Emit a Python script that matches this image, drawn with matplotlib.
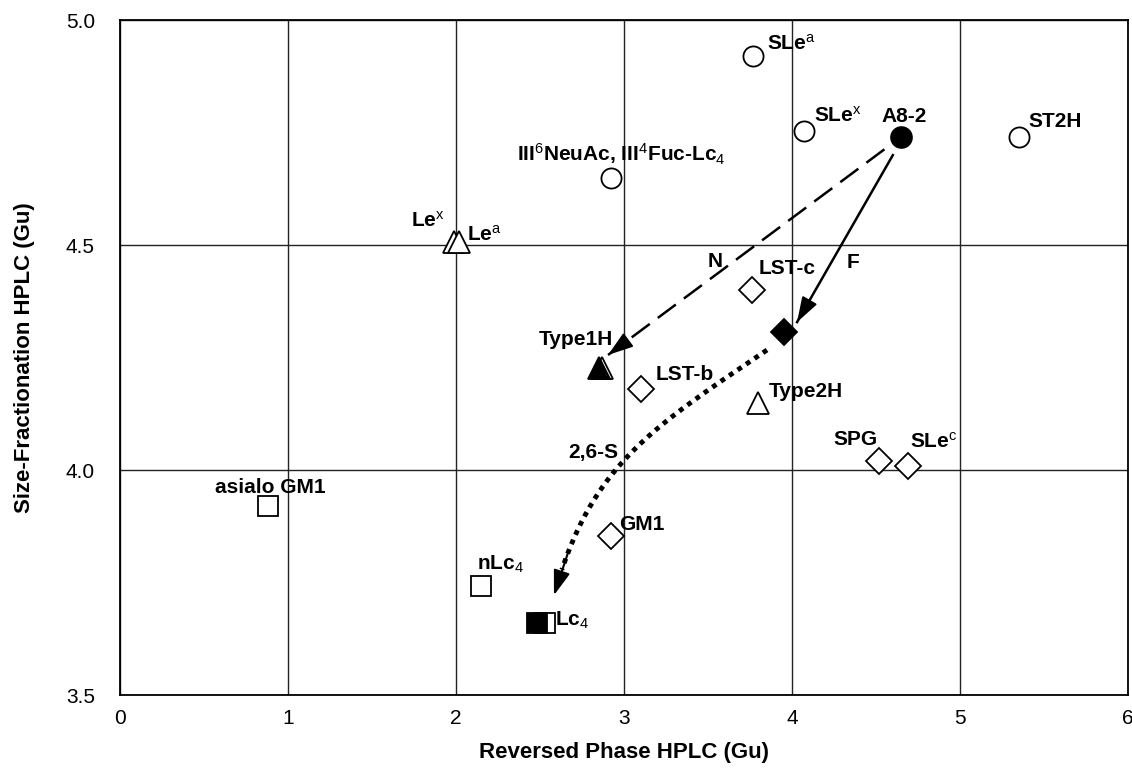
import numpy as np
import matplotlib.pyplot as plt

plt.rcParams['font.family'] = ['Liberation Sans', 'DejaVu Sans']
plt.rcParams['mathtext.fontset'] = 'custom'
plt.rcParams['mathtext.rm'] = 'Liberation Sans'
plt.rcParams['mathtext.it'] = 'Liberation Sans:italic'
plt.rcParams['mathtext.bf'] = 'Liberation Sans:bold'

# retention values (Gu): reversed phase (x) vs size fractionation (y)
circle_names = ['SLea', 'SLex', 'ST2H', 'III6NeuAc']
circle_x = [3.77, 4.07, 5.35, 2.92]
circle_y = [4.92, 4.753, 4.74, 4.65]

a82_x = [4.65]
a82_y = [4.74]

tri_names = ['Lex', 'Lea', 'Type1H', 'Type2H']
tri_x = [1.99, 2.02, 2.87, 3.80]
tri_y = [4.508, 4.508, 4.228, 4.15]

tri_prod_x = [2.85]
tri_prod_y = [4.228]

dia_names = ['LST-c', 'LST-b', 'SPG', 'SLec', 'GM1']
dia_x = [3.76, 3.10, 4.52, 4.69, 2.92]
dia_y = [4.40, 4.18, 4.02, 4.01, 3.853]

dia_prod_x = [3.95]
dia_prod_y = [4.307]

sq_names = ['asialo GM1', 'nLc4', 'Lc4']
sq_x = [0.88, 2.15, 2.53]
sq_y = [3.92, 3.742, 3.66]

sq_prod_x = [2.48]
sq_prod_y = [3.66]

# enzyme arrows: start and tip of N and F, control points of the 2,6-S curve
n_arrow = [(4.55, 4.713), (2.905, 4.256)]
f_arrow = [(4.60, 4.70), (4.03, 4.329)]
s_curve = [(3.851, 4.267), (3.137, 4.087), (2.798, 4.007), (2.583, 3.722)]

x_ticks = [0, 1, 2, 3, 4, 5, 6]
y_ticks = [3.5, 4.0, 4.5, 5.0]

fig = plt.figure(figsize=(11.32, 7.75), dpi=100)
ax = fig.add_axes([0.106, 0.103, 0.8905, 0.871])
ax.set_xlim(0, 6)
ax.set_ylim(3.5, 5.0)
ax.set_xticks(x_ticks)
ax.set_yticks(y_ticks)
ax.set_xticklabels([str(t) for t in x_ticks])
ax.set_yticklabels(['%.1f' % t for t in y_ticks])
ax.tick_params(length=0, labelsize=15, pad=10)
ax.tick_params(axis='y', pad=18)
ax.grid(True, color='#222222', lw=1.0)
ax.set_axisbelow(True)
for s in ax.spines.values():
    s.set_linewidth(1.3)

ax.set_xlabel('Reversed Phase HPLC (Gu)', fontsize=16, fontweight='bold', labelpad=10)
ax.set_ylabel('Size-Fractionation HPLC (Gu)', fontsize=16, fontweight='bold', labelpad=22)

mk = dict(ls='none', mec='k', mew=1.3, zorder=4)
ax.plot(circle_x, circle_y, 'o', ms=14.5, mfc='white', **mk)
ax.plot(a82_x, a82_y, 'o', ms=15, mfc='k', **mk)
ax.plot(tri_x, tri_y, '^', ms=16.5, mfc='white', **mk)
ax.plot(tri_prod_x, tri_prod_y, '^', ms=16.5, mfc='k', **mk)
ax.plot(dia_x, dia_y, 'D', ms=13.5, mfc='white', **mk)
ax.plot(dia_prod_x, dia_prod_y, 'D', ms=13.5, mfc='k', **mk)
ax.plot(sq_x, sq_y, 's', ms=15, mfc='white', **mk)
ax.plot(sq_prod_x, sq_prod_y, 's', ms=15, mfc='k', **mk)

pts = {}
for names, xs, ys in [(circle_names, circle_x, circle_y), (tri_names, tri_x, tri_y),
                      (dia_names, dia_x, dia_y), (sq_names, sq_x, sq_y)]:
    for n, x, y in zip(names, xs, ys):
        pts[n] = (x, y)
pts['A8-2'] = (a82_x[0], a82_y[0])

# label text, offset in pixels from its point, alignment
labels = {
    'SLea': (r'SLe$^{\mathrm{a}}$', 14, 6, 'left'),
    'SLex': (r'SLe$^{\mathrm{x}}$', 10, 10, 'left'),
    'A8-2': ('A8-2', 3, 15, 'center'),
    'ST2H': ('ST2H', 10, 10, 'left'),
    'III6NeuAc': (r'III$^{\mathrm{6}}$NeuAc, III$^{\mathrm{4}}$Fuc-Lc$_{\mathrm{4}}$', 11, 16, 'center'),
    'Lex': (r'Le$^{\mathrm{x}}$', -10, 15, 'right'),
    'Lea': (r'Le$^{\mathrm{a}}$', 8, 1, 'left'),
    'Type1H': ('Type1H', 11, 23, 'right'),
    'Type2H': ('Type2H', 10, 6, 'left'),
    'LST-c': ('LST-c', 7, 16, 'left'),
    'LST-b': ('LST-b', 15, 9, 'left'),
    'SPG': ('SPG', -2, 16, 'right'),
    'SLec': (r'SLe$^{\mathrm{c}}$', 2, 18, 'left'),
    'GM1': ('GM1', 9, 6, 'left'),
    'asialo GM1': ('asialo GM1', 2, 13, 'center'),
    'nLc4': (r'nLc$_{\mathrm{4}}$', -4, 17, 'left'),
    'Lc4': (r'Lc$_{\mathrm{4}}$', 10, -3, 'left'),
}
for key, (txt, dx, dy, ha) in labels.items():
    ax.annotate(txt, pts[key], xytext=(dx, dy), textcoords='offset pixels',
                ha=ha, va='baseline', fontsize=15, fontweight='bold', zorder=5)

ax.text(3.545, 4.451, 'N', ha='center', va='baseline', fontsize=15, fontweight='bold')
ax.text(4.36, 4.449, 'F', ha='center', va='baseline', fontsize=15, fontweight='bold')
ax.text(2.964, 4.027, '2,6-S', ha='right', va='baseline', fontsize=15, fontweight='bold')

head = dict(arrowstyle='-|>,head_length=0.9,head_width=0.3', color='k', lw=1.5,
            shrinkA=0, shrinkB=0, mutation_scale=17)


def arrow_head(p_from, p_to):
    ax.annotate('', xy=p_to, xytext=p_from, arrowprops=head, zorder=3)


# N: dashed straight arrow
(x0, y0), (x1, y1) = n_arrow
ax.plot([x0, x1], [y0, y1], color='k', lw=1.8, ls=(0, (9, 4)), zorder=3)
arrow_head((x1 + 0.06 * (x0 - x1), y1 + 0.06 * (y0 - y1)), (x1, y1))

# F: solid straight arrow
(x0, y0), (x1, y1) = f_arrow
ax.plot([x0, x1], [y0, y1], color='k', lw=1.8, zorder=3)
arrow_head((x1 + 0.1 * (x0 - x1), y1 + 0.1 * (y0 - y1)), (x1, y1))

# 2,6-S: dotted cubic curve
cp = np.array(s_curve)
t = np.linspace(0, 0.93, 200)[:, None]
curve = ((1 - t) ** 3 * cp[0] + 3 * (1 - t) ** 2 * t * cp[1]
         + 3 * (1 - t) * t ** 2 * cp[2] + t ** 3 * cp[3])
ax.plot(curve[:, 0], curve[:, 1], color='k', lw=3.5, ls=(0, (1, 1.1)),
        dash_capstyle='butt', zorder=3)
arrow_head(tuple(curve[-12]), tuple(cp[3]))

fig.savefig('out.png', dpi=100)
